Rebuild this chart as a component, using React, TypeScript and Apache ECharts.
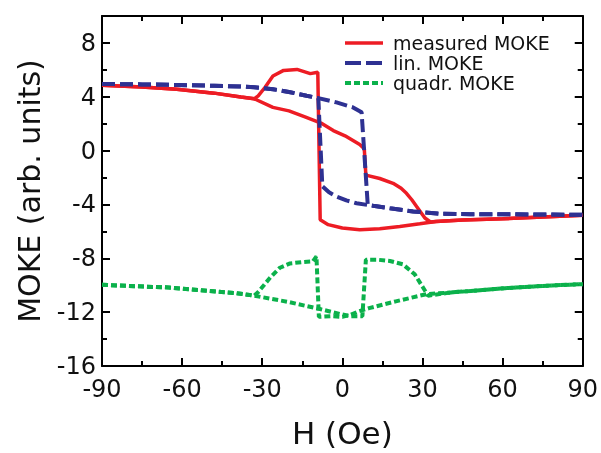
import React, { useEffect, useRef } from "react";
import * as echarts from "echarts";

// measured MOKE, branch with switching at negative field
const redAH = [-90, -75, -62, -48, -38, -33, -31.5, -29, -26, -22, -17, -12, -9.2, -8.3, -5.3, 0, 6.5, 14, 21.5, 29, 35, 45, 60, 75, 90];
const redAV = [4.86, 4.72, 4.56, 4.27, 3.98, 3.85, 4.07, 4.69, 5.54, 5.96, 6.03, 5.72, 5.82, -5.14, -5.5, -5.75, -5.87, -5.8, -5.63, -5.43, -5.26, -5.15, -5.06, -4.93, -4.8];
// measured MOKE, branch with switching at positive field
const redBH = [-90, -75, -62, -48, -38, -33, -26, -20, -14, -8, -3.4, 1, 6.5, 8.2, 8.8, 14, 19, 22, 24, 26, 27.8, 30.9, 33, 35, 45, 60, 75, 90];
const redBV = [4.86, 4.72, 4.56, 4.27, 3.98, 3.85, 3.21, 2.95, 2.5, 2.05, 1.49, 1.1, 0.46, 0.14, -1.82, -2.07, -2.43, -2.8, -3.17, -3.65, -4.15, -5.01, -5.3, -5.26, -5.15, -5.06, -4.93, -4.8];

// lin. MOKE
const blueAH = [-90, -75, -62, -48, -38, -33, -26, -20, -13.4, -9, -7.5, -5, -2.2, 1.5, 5.3, 11.5, 17.8, 26.5, 36.5, 48, 60, 75, 90];
const blueAV = [4.95, 4.92, 4.88, 4.82, 4.76, 4.7, 4.56, 4.36, 4.07, 3.9, -2.65, -3.1, -3.41, -3.7, -3.91, -4.1, -4.28, -4.52, -4.69, -4.72, -4.72, -4.75, -4.77];
const blueBH = [-90, -75, -62, -48, -38, -33, -26, -20, -13.4, -9, -2.2, 4, 7.2, 9.5, 11.5, 17.8, 26.5, 36.5, 48, 60, 75, 90];
const blueBV = [4.95, 4.92, 4.88, 4.82, 4.76, 4.7, 4.56, 4.36, 4.07, 3.9, 3.58, 3.21, 2.85, -4.03, -4.1, -4.28, -4.52, -4.69, -4.72, -4.72, -4.75, -4.77];

// quadr. MOKE
const greenAH = [-90, -65, -40, -33, -31.5, -27, -23.4, -19.6, -15, -11, -9.7, -8.8, -4, 0, 3, 6, 10, 20, 31.5, 40, 61, 75, 90];
const greenAV = [-9.97, -10.17, -10.58, -10.78, -10.5, -9.43, -8.7, -8.38, -8.28, -8.22, -7.85, -12.35, -12.3, -12.35, -12.2, -11.95, -11.7, -11.2, -10.66, -10.55, -10.22, -10.05, -9.92];
const greenBH = [-90, -65, -40, -33, -20, -8.4, -1, 3, 7.5, 8.8, 13, 17.8, 22.7, 27.1, 30.2, 32.1, 40, 61, 75, 90];
const greenBV = [-9.97, -10.17, -10.58, -10.78, -11.25, -11.77, -12.13, -12.3, -12.3, -8.1, -8.1, -8.2, -8.45, -9.19, -10.17, -10.78, -10.55, -10.22, -10.05, -9.92];

const seriesNames = ["measured MOKE", "lin. MOKE", "quadr. MOKE"];

const pairs = (h: number[], v: number[]) => h.map((x, i) => [x, v[i]]);

export default function App() {
  const ref = useRef<HTMLDivElement>(null);
  useEffect(() => {
    const chart = echarts.init(ref.current!, null, { renderer: "svg" });
    const font = "DejaVu Sans";
    const black = "#000";
    const textColor = "#111";
    const axisLine = { show: true, onZero: false, lineStyle: { color: black, width: 2 } };
    const majorTick = { show: true, inside: true, length: 8, lineStyle: { color: black, width: 2 } };
    const minorTickAxis = { show: true, inside: true, length: 5, lineStyle: { color: black, width: 2 } };
    const red = "#ED1C24";
    const blue = "#2E3192";
    const green = "#0BB14B";
    const colors = [red, blue, green];
    const widths = [3.5, 4, 4];
    const dashes: any[] = [null, [13, 5], [6, 3]];
    const legendDashes: any[] = [null, [16, 5], [6, 3]];
    const mk = (idx: number, h: number[], v: number[]) => ({
      name: seriesNames[idx],
      type: "line",
      data: pairs(h, v),
      symbol: "none",
      showSymbol: false,
      z: 2 + idx,
      lineStyle: { color: colors[idx], width: widths[idx], type: dashes[idx] || "solid" },
      itemStyle: { color: colors[idx] },
    });
    const legendGraphics: any[] = [];
    seriesNames.forEach((n, i) => {
      const y = 43 + i * 20;
      legendGraphics.push({
        type: "line",
        shape: { x1: 345, y1: y, x2: 383, y2: y },
        style: { stroke: colors[i], lineWidth: widths[i], lineDash: legendDashes[i] || undefined },
        z: 10,
      });
      legendGraphics.push({
        type: "text",
        x: 393,
        y,
        style: { text: n, fontFamily: font, fontSize: 19, fill: textColor, verticalAlign: "middle", align: "left" },
        z: 10,
      });
    });
    const yAxisBase = { type: "value", min: -16, max: 10, splitLine: { show: false } };
    const xAxisBase = {
      type: "value",
      min: -90,
      max: 90,
      interval: 30,
      axisLine,
      axisTick: majorTick,
      minorTick: { show: true, splitNumber: 2, length: 5, lineStyle: { color: black, width: 2 } },
      splitLine: { show: false },
    };
    chart.setOption({
      animation: false,
      grid: { left: 102, right: 18, top: 16, bottom: 84, containLabel: false },
      graphic: legendGraphics,
      xAxis: [
        {
          ...xAxisBase,
          position: "bottom",
          axisLabel: { fontFamily: font, fontSize: 24, color: textColor, margin: 11 },
          name: "H (Oe)",
          nameLocation: "middle",
          nameGap: 51,
          nameTextStyle: { fontFamily: font, fontSize: 31, color: textColor },
        },
        { ...xAxisBase, position: "top", axisLabel: { show: false } },
      ],
      yAxis: [
        {
          ...yAxisBase,
          position: "left",
          interval: 4,
          axisLine,
          axisTick: majorTick,
          axisLabel: {
            fontFamily: font,
            fontSize: 24,
            color: textColor,
            margin: 6,
            formatter: (v: number) => (v === 10 ? "" : String(v)),
          },
          name: "MOKE (arb. units)",
          nameLocation: "middle",
          nameGap: 58,
          nameTextStyle: { fontFamily: font, fontSize: 30, color: textColor },
        },
        {
          ...yAxisBase,
          position: "left",
          interval: 2,
          axisLine: { show: false, onZero: false },
          axisTick: minorTickAxis,
          axisLabel: { show: false },
        },
        {
          ...yAxisBase,
          position: "right",
          interval: 4,
          axisLine,
          axisTick: majorTick,
          axisLabel: { show: false },
        },
        {
          ...yAxisBase,
          position: "right",
          interval: 2,
          axisLine: { show: false, onZero: false },
          axisTick: minorTickAxis,
          axisLabel: { show: false },
        },
      ],
      series: [
        mk(0, redAH, redAV),
        mk(0, redBH, redBV),
        mk(1, blueAH, blueAV),
        mk(1, blueBH, blueBV),
        mk(2, greenAH, greenAV),
        mk(2, greenBH, greenBV),
      ],
    });
    return () => chart.dispose();
  }, []);
  return <div ref={ref} style={{ position: "fixed", left: 0, top: 0, width: 601, height: 453 }} />;
}
